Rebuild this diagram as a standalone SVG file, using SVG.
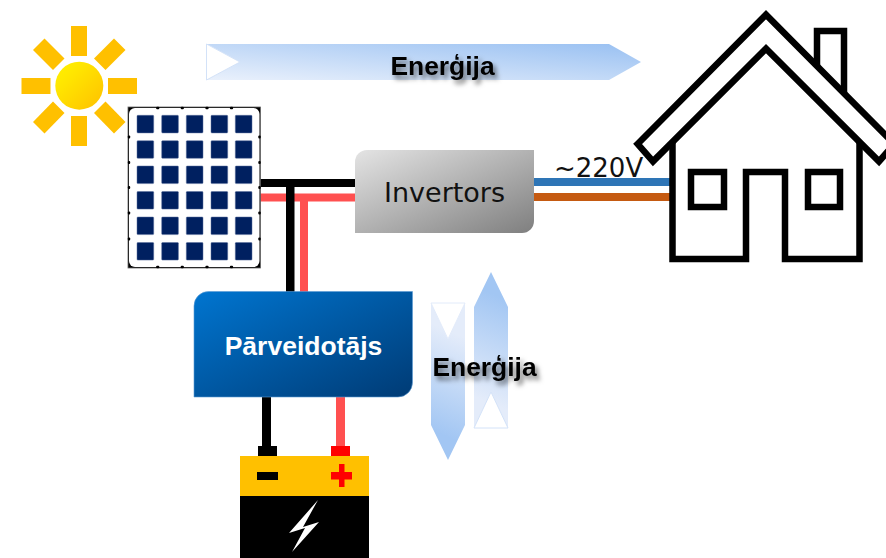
<svg xmlns="http://www.w3.org/2000/svg" xmlns:xlink="http://www.w3.org/1999/xlink" width="886" height="558" viewBox="0 0 886 558">
<defs>
<style>
.ray{fill:#FFC000}
.cell{fill:#002060;stroke:#5a6f9c;stroke-width:.5}
.tick{fill:#000}
.blk{fill:#000}
.red{fill:#FF5050}
.hs{fill:none;stroke:#000;stroke-width:6.5;stroke-miterlimit:10}
.en{font-family:"Liberation Sans",Arial,sans-serif;font-weight:700;font-size:26.4px;fill:#000;filter:url(#ts)}
.dv{font-family:"DejaVu Sans",Verdana,sans-serif;fill:#111}
</style>
<filter id="ts" x="-20%" y="-30%" width="150%" height="190%"><feDropShadow dx="3" dy="4" stdDeviation="2.5" flood-color="#000" flood-opacity=".55"/></filter>
<linearGradient id="gs" x1="0" y1="0" x2="1" y2="1"><stop offset="0" stop-color="#FFF200"/><stop offset=".3" stop-color="#FFE600"/><stop offset="1" stop-color="#FFC000"/></linearGradient>
<linearGradient id="gi" x1="0" y1="0" x2="1" y2="1"><stop offset="0" stop-color="#E4E4E4"/><stop offset="1" stop-color="#7F7F7F"/></linearGradient>
<linearGradient id="gc" x1="0" y1="0" x2="1" y2="1"><stop offset="0" stop-color="#0075D0"/><stop offset="1" stop-color="#003B75"/></linearGradient>
<linearGradient id="gt" gradientUnits="userSpaceOnUse" x1="206" y1="80" x2="212" y2="9"><stop offset="0" stop-color="#EAF1FC"/><stop offset="1" stop-color="#9AC1F2"/></linearGradient>
<linearGradient id="gd" gradientUnits="userSpaceOnUse" x1="431" y1="430" x2="470" y2="340"><stop offset="0" stop-color="#A2C6F3"/><stop offset="1" stop-color="#E4ECFA"/></linearGradient>
<linearGradient id="gu" gradientUnits="userSpaceOnUse" x1="508" y1="300" x2="470" y2="395"><stop offset="0" stop-color="#A2C6F3"/><stop offset="1" stop-color="#E4ECFA"/></linearGradient>
<rect id="c" class="cell" width="16.7" height="17.6" rx=".8"/>
<rect id="tx" class="tick" x="-1.6" y="-1.2" width="3.2" height="2.4" rx="1"/>
<rect id="ty" class="tick" x="-1.2" y="-1.6" width="2.4" height="3.2" rx="1"/>
</defs>
<rect width="886" height="558" fill="#fff"/>

<g id="sun">
<rect class="ray" x="71" y="26" width="16" height="30"/>
<rect class="ray" x="71" y="116" width="16" height="30"/>
<rect class="ray" x="21.500" y="78" width="29" height="16"/>
<rect class="ray" x="108" y="78" width="29" height="16"/>
<polygon class="ray" points="44.500,38.500 33,50 53,70 64.500,58.500"/>
<polygon class="ray" points="114,38.500 125.500,50 105.500,70 94,58.500"/>
<polygon class="ray" points="53,101.500 33,122 44.500,133.500 64.500,113"/>
<polygon class="ray" points="105.500,101.500 125.500,122 114,133.500 94,113"/>
<circle cx="79.300" cy="85.700" r="24" fill="url(#gs)"/>
</g>

<g id="energy-arrow-top">
<polygon points="206.500,44 609,44 641,62 609,80 206.500,80 240,62" fill="url(#gt)"/>
<polygon points="206.500,44 240,62 206.500,80" fill="#fff" stroke="#D3E2F8" stroke-width="1"/>
<text class="en" x="442.500" y="75" text-anchor="middle">Enerģija</text>
</g>

<g id="connectors">
<rect class="blk" x="260" y="179" width="95" height="8"/>
<rect class="red" x="260" y="193.500" width="95" height="8"/>
<rect class="red" x="300" y="201" width="8" height="91"/>
<rect class="blk" x="286" y="187" width="8.500" height="105"/>
<rect x="534" y="178" width="136" height="8" fill="#2E75B6"/>
<rect x="534" y="193" width="136" height="8" fill="#C55A11"/>
<rect class="blk" x="262" y="397" width="9" height="50"/>
<rect class="red" x="336" y="397" width="9" height="50"/>
</g>

<g id="solar-panel">
<rect x="128" y="107" width="132.500" height="161" fill="#000" stroke="#666" stroke-width=".8"/>
<rect x="129" y="108" width="130.500" height="159" rx="6" fill="#fff"/>
<use href="#tx" x="157.700" y="108"/><use href="#tx" x="182.300" y="108"/><use href="#tx" x="207" y="108"/><use href="#tx" x="231.500" y="108"/>
<use href="#tx" x="157.700" y="267"/><use href="#tx" x="182.300" y="267"/><use href="#tx" x="207" y="267"/><use href="#tx" x="231.500" y="267"/>
<use href="#ty" x="129" y="137"/><use href="#ty" x="129" y="162.500"/><use href="#ty" x="129" y="187.500"/><use href="#ty" x="129" y="213"/><use href="#ty" x="129" y="239"/>
<use href="#ty" x="259.500" y="137"/><use href="#ty" x="259.500" y="162.500"/><use href="#ty" x="259.500" y="187.500"/><use href="#ty" x="259.500" y="213"/><use href="#ty" x="259.500" y="239"/>
<use href="#c" x="137" y="115.300"/><use href="#c" x="161.700" y="115.300"/><use href="#c" x="186.300" y="115.300"/><use href="#c" x="211" y="115.300"/><use href="#c" x="235.300" y="115.300"/>
<use href="#c" x="137" y="140.700"/><use href="#c" x="161.700" y="140.700"/><use href="#c" x="186.300" y="140.700"/><use href="#c" x="211" y="140.700"/><use href="#c" x="235.300" y="140.700"/>
<use href="#c" x="137" y="166"/><use href="#c" x="161.700" y="166"/><use href="#c" x="186.300" y="166"/><use href="#c" x="211" y="166"/><use href="#c" x="235.300" y="166"/>
<use href="#c" x="137" y="191.500"/><use href="#c" x="161.700" y="191.500"/><use href="#c" x="186.300" y="191.500"/><use href="#c" x="211" y="191.500"/><use href="#c" x="235.300" y="191.500"/>
<use href="#c" x="137" y="217"/><use href="#c" x="161.700" y="217"/><use href="#c" x="186.300" y="217"/><use href="#c" x="211" y="217"/><use href="#c" x="235.300" y="217"/>
<use href="#c" x="137" y="242.500"/><use href="#c" x="161.700" y="242.500"/><use href="#c" x="186.300" y="242.500"/><use href="#c" x="211" y="242.500"/><use href="#c" x="235.300" y="242.500"/>
</g>

<g id="inverter">
<path d="M367 150H534V221a12 12 0 0 1-12 12H355V162a12 12 0 0 1 12-12Z" fill="url(#gi)"/>
<text class="dv" x="444.500" y="202" text-anchor="middle" font-size="27">Invertors</text>
</g>

<text id="voltage" class="dv" x="554" y="177" font-size="26">~220V</text>

<g id="house">
<path class="hs" d="M672.500 143V259H746V172H785V259H859.500V143"/>
<rect class="hs" x="691" y="172" width="33" height="35"/>
<rect class="hs" x="808" y="172" width="32" height="35"/>
<path class="hs" d="M817 66V31H844V93"/>
<path class="hs" d="M637.600 144L766 14.600L894.400 144L879 161.400L766 48.600L653 161.400Z"/>
</g>

<g id="converter">
<path d="M209 291.500H412.500V382.500a14.500 14.500 0 0 1-14.500 14.500H194V306a14.500 14.500 0 0 1 15-14.500Z" fill="url(#gc)" stroke="#5B9BD5" stroke-width=".6"/>
<text x="303.500" y="355" text-anchor="middle" font-family="'Liberation Sans',Arial,sans-serif" font-weight="700" font-size="26.500" fill="#fff">Pārveidotājs</text>
</g>

<g id="energy-arrows-vertical">
<polygon points="431,303 448,339 465,303 465,425 448,460 431,425" fill="url(#gd)"/>
<polygon points="431,303 448,339 465,303" fill="#fff" stroke="#E2EBFA" stroke-width="1"/>
<polygon points="474,307 491,272 508,307 508,428 491,392 474,428" fill="url(#gu)"/>
<polygon points="474,428 491,392 508,428" fill="#fff" stroke="#D3E2F8" stroke-width="1"/>
<text class="en" x="484.500" y="376" text-anchor="middle">Enerģija</text>
</g>

<g id="battery">
<rect x="258" y="446" width="19" height="10" fill="#000"/>
<rect x="331" y="446" width="19" height="10" fill="#FF0000"/>
<rect x="240" y="456" width="129" height="40" fill="#FFC000"/>
<rect x="240" y="496" width="129" height="62" fill="#000"/>
<rect x="257" y="472" width="21" height="8" fill="#000"/>
<rect x="331" y="472" width="21" height="7.500" fill="#FF0000"/>
<rect x="339" y="464" width="5.500" height="23" fill="#FF0000"/>
<polygon points="318,500 289,533 305,528 292,552 319,522 303,527" fill="#fff"/>
</g>
</svg>
